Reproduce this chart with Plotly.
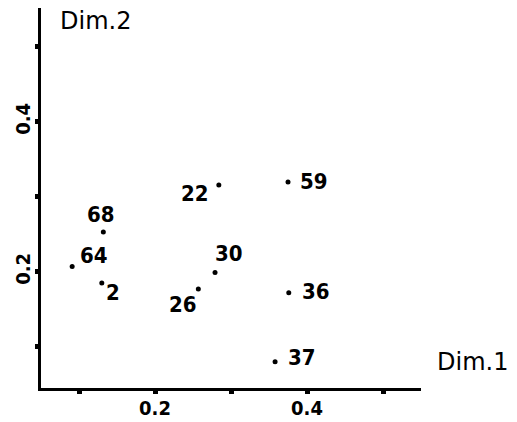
import plotly.graph_objects as go

# Item coordinates on the first two dimensions
labels = ["22", "59", "30", "26", "36", "37", "68", "64", "2"]
dim1 = [0.284, 0.375, 0.279, 0.257, 0.376, 0.358, 0.132, 0.091, 0.130]
dim2 = [0.316, 0.320, 0.199, 0.177, 0.172, 0.080, 0.253, 0.207, 0.185]

tick_vals = [0.1, 0.2, 0.3, 0.4, 0.5]
tick_text = ["", "0.2", "", "0.4", ""]

# Pixel offsets of each label from its point
label_offset = {
    "22": (-24, -9), "59": (26, 0), "30": (14, 19), "26": (-15, -15),
    "36": (27, 1), "37": (27, 4), "68": (-2, 18), "64": (22, 11), "2": (11, -9),
}

num_font = dict(family="DejaVu Sans Condensed", size=22, color="black", weight="bold")
title_font = dict(family="DejaVu Sans", size=24, color="black")

fig = go.Figure()
fig.add_trace(go.Scatter(
    x=dim1, y=dim2, mode="markers",
    marker=dict(size=5, color="black"),
    hoverinfo="text", text=labels, cliponaxis=False,
))

for lab, xv, yv in zip(labels, dim1, dim2):
    dx, dy = label_offset[lab]
    fig.add_annotation(x=xv, y=yv, text=lab, showarrow=False,
                       xshift=dx, yshift=dy, font=num_font)

fig.add_annotation(xref="paper", yref="paper", x=1.037, y=0.068,
                   xanchor="left", yanchor="middle", text="Dim.1",
                   showarrow=False, font=title_font)
fig.add_annotation(xref="paper", yref="paper", x=0.045, y=0.966,
                   xanchor="left", yanchor="middle", text="Dim.2",
                   showarrow=False, font=title_font)

axis_common = dict(
    showgrid=False, zeroline=False, showline=True, linecolor="black", linewidth=2.5,
    ticks="outside", ticklen=3, tickwidth=5, tickcolor="black",
    tickvals=tick_vals, ticktext=tick_text, automargin=False,
    ticklabelstandoff=-3,
    tickfont=dict(family="DejaVu Sans Condensed", size=20, color="black", weight="bold"),
)

fig.update_xaxes(range=[0.05, 0.55], **axis_common)
fig.update_yaxes(range=[0.045, 0.552], tickangle=-90, **axis_common)

fig.update_layout(
    width=517, height=422,
    margin=dict(l=41, r=96, t=8, b=34),
    paper_bgcolor="white", plot_bgcolor="white",
    showlegend=False,
)

fig.write_html("out.html")
